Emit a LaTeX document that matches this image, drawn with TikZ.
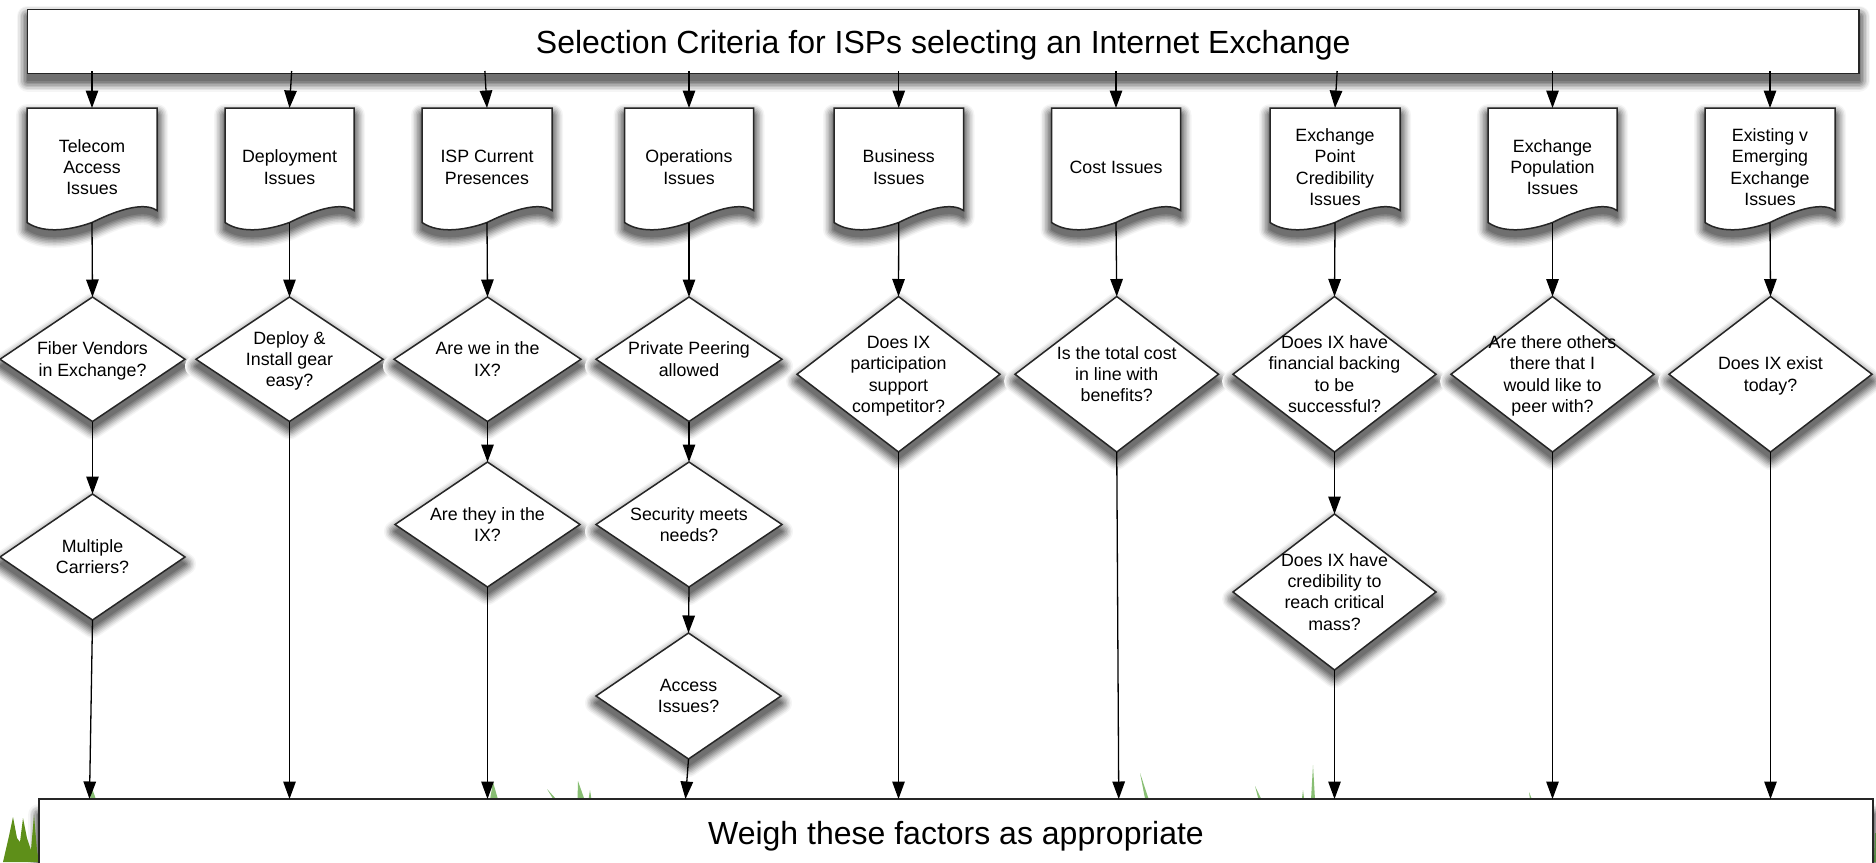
\documentclass[tikz,border=0pt]{standalone}
\usepackage{fontspec}
\setmainfont{Liberation Sans}
\usetikzlibrary{shapes.geometric,arrows.meta,calc}
\newcommand\zbox[2][-8pt]{\makebox[0pt]{\raisebox{#1}[0pt][0pt]{\begin{tabular}{@{}c@{}}#2\end{tabular}}}}
\newcommand\lineonly[2]{\makebox[0pt]{\raisebox{#1}[0pt][0pt]{#2}}}
\newcommand\softshadow[1]{\foreach \w/\c in {22/4,19/10,16/17,13/25,10/33,7/41,4/49,1/56}{\path[fill=black!\c,draw=black!\c,line join=round,line width=\w pt,shift={(0,7)}] #1;}}
\tikzset{
  x=1pt,y=-1pt,
  every node/.style={text=black},
  shapeline/.style={draw=black!85,line width=1.5pt,fill=white,line join=miter},
  smalltext/.style={font=\fontsize{17.8}{21.4}\selectfont},
  bigtext/.style={font=\fontsize{32}{38}\selectfont},
  dia/.style={shapeline,diamond,inner sep=0pt,outer sep=0pt,smalltext},
  docbox/.style={rectangle,inner sep=0pt,outer sep=0pt,minimum height=114.5pt,smalltext},
  banner/.style={shapeline,rectangle,inner sep=0pt,outer sep=0pt,bigtext},
  conn/.style={draw=black,line width=1.3pt,-{Triangle[length=17.5pt,width=12.5pt]}},
  grass/.style={fill=green!45!black!85!yellow,opacity=.55,draw=none},
}
\newcommand\docnode[4]{%
  \pgfmathsetmacro\xa{#2}\pgfmathsetmacro\xb{#3}\pgfmathsetmacro\wdd{#3-#2}%
  \def\docpath{(\xa,108) -- (\xb,108) -- (\xb,210.5) .. controls ({\xa+.93*\wdd},204) and ({\xa+.78*\wdd},204.5) .. ({\xa+.5*\wdd},222.5) .. controls ({\xa+.36*\wdd},229) and ({\xa+.14*\wdd},235) .. (\xa,222.5) -- cycle}%
  \softshadow{\docpath}%
  \path[shapeline] \docpath;%
  \node[docbox,minimum width=\wdd pt] (#1) at ({(#2+#3)/2},165.25) {\zbox[-8.3pt]{#4}};%
}
\newcommand\dianode[6]{% name, left, right, top, bottom, text
  \pgfmathsetmacro\xa{#2}\pgfmathsetmacro\xb{#3}\pgfmathsetmacro\ya{#4}\pgfmathsetmacro\yb{#5}%
  \pgfmathsetmacro\xc{(#2+#3)/2}\pgfmathsetmacro\yc{(#4+#5)/2}%
  \softshadow{(\xc,\ya) -- (\xb,\yc) -- (\xc,\yb) -- (\xa,\yc) -- cycle}%
  \pgfmathsetmacro\wdd{#3-#2}\pgfmathsetmacro\htt{#5-#4}%
  \node[dia,minimum width=\wdd pt,minimum height=\htt pt] (#1) at (\xc,\yc) {\zbox[-6.3pt]{#6}};%
}
\newcommand\blade[4]{\path[grass] ({#1-#4},799.5) -- (#2,#3) -- ({#1+#4},799.5) -- cycle;}
\begin{document}
\begin{tikzpicture}
\useasboundingbox (0,0) rectangle (1876,862);
\clip (0,0) rectangle (1876,862);
% title
\softshadow{(27.5,9.5) rectangle (1859,73.5)}
\node[banner,minimum width=1831.5pt,minimum height=64pt] (title) at (943.25,41.5) {\lineonly{-11.8pt}{Selection Criteria for ISPs selecting an Internet Exchange}};
% bottom shadow, then grass
\softshadow{(39,808) rectangle (1873,880)}
\path[fill=green!30!black!70!yellow!90!white] (3,862) -- (9,836) -- (13,817) -- (17,838) -- (20,842) -- (23,818) -- (27,838) -- (31,850) -- (34,815) -- (37,850) -- (39,862) -- cycle;
\blade{93}{92}{788}{3}
\blade{494}{493}{782}{4}
\blade{555}{547}{789}{1.5}
\blade{581}{578}{781}{3.5}
\blade{590}{590}{790}{1.5}
\blade{1147}{1140}{773}{1.8}
\blade{1260}{1255}{786}{1.5}
\blade{1303}{1303}{790}{1.2}
\blade{1313}{1313}{765}{2}
\blade{1531}{1529}{792}{1}
\path[grass] (1874,862) -- (1875,833) -- (1876,833) -- (1876,862) -- cycle;
\node[banner,minimum width=1834pt,minimum height=66pt] (weigh) at (956,832) {\lineonly{-12pt}{Weigh these factors as appropriate}};
% documents
\docnode{d1}{27}{157}{Telecom\\Access\\Issues}
\docnode{d2}{225}{354}{Deployment\\Issues}
\docnode{d3}{422}{552}{ISP Current\\Presences}
\docnode{d4}{624.5}{753.5}{Operations\\Issues}
\docnode{d5}{834}{963.5}{Business\\Issues}
\docnode{d6}{1051.5}{1180.5}{Cost Issues}
\docnode{d7}{1270}{1400}{Exchange\\Point\\Credibility\\Issues}
\docnode{d8}{1488}{1617}{Exchange\\Population\\Issues}
\docnode{d9}{1705}{1835}{Existing v\\Emerging\\Exchange\\Issues}
% decisions
\dianode{q1}{0}{185}{297}{421.5}{Fiber Vendors\\in Exchange?}
\dianode{q1b}{0}{185}{494}{620}{Multiple\\Carriers?}
\dianode{q2}{196}{383}{297}{421.5}{Deploy \&\\Install gear\\easy?}
\dianode{q3}{394}{581}{297}{421.5}{Are we in the\\IX?}
\dianode{q3b}{395}{580}{462}{587}{Are they in the\\IX?}
\dianode{q4}{596}{782}{297}{421.5}{Private Peering\\allowed}
\dianode{q4b}{596}{782}{462}{587}{Security meets\\needs?}
\dianode{q4c}{596}{781}{633}{759}{Access\\Issues?}
\dianode{q5}{797}{1000}{296.5}{452}{Does IX\\participation\\support\\competitor?}
\dianode{q6}{1015}{1218.5}{296.5}{452}{Is the total cost\\in line with\\benefits?}
\dianode{q7}{1233}{1436}{296.5}{452}{Does IX have\\financial backing\\to be\\successful?}
\dianode{q7b}{1233}{1436}{514}{670}{Does IX have\\credibility to\\reach critical\\mass?}
\dianode{q8}{1451}{1654}{296.5}{452}{Are there others\\there that I\\would like to\\peer with?}
\dianode{q9}{1669}{1872}{296.5}{452}{Does IX exist\\today?}
% connectors title -> documents
\draw[conn,shorten <=-2.5pt] (title.south -| d1.north) -- (d1.north);
\draw[conn,shorten <=-2.5pt] ([xshift=2pt]title.south -| d2.north) -- (d2.north);
\draw[conn,shorten <=-2.5pt] ([xshift=-2pt]title.south -| d3.north) -- (d3.north);
\draw[conn,shorten <=-2.5pt] (title.south -| d4.north) -- (d4.north);
\draw[conn,shorten <=-2.5pt] (title.south -| d5.north) -- (d5.north);
\draw[conn,shorten <=-2.5pt] (title.south -| d6.north) -- (d6.north);
\draw[conn,shorten <=-2.5pt] ([xshift=2pt]title.south -| d7.north) -- (d7.north);
\draw[conn,shorten <=-2.5pt] (title.south -| d8.north) -- (d8.north);
\draw[conn,shorten <=-2.5pt] (title.south -| d9.north) -- (d9.north);
% documents -> decisions
\foreach \n in {1,...,9}{\draw[conn] (d\n.south) -- (q\n.north);}
% between decisions
\draw[conn] (q1.south) -- (q1b.north);
\draw[conn] (q3.south) -- (q3b.north);
\draw[conn] (q4.south) -- (q4b.north);
\draw[conn] (q4b.south) -- (q4c.north);
\draw[conn] (q7.south) -- (q7b.north);
% decisions -> weigh
\draw[conn] (q1b.south) -- ([xshift=-3pt]weigh.north -| q1b.south);
\draw[conn] (q2.south) -- (weigh.north -| q2.south);
\draw[conn] (q3b.south) -- (weigh.north -| q3b.south);
\draw[conn] (q4c.south) -- ([xshift=-3pt]weigh.north -| q4c.south);
\draw[conn] (q5.south) -- (weigh.north -| q5.south);
\draw[conn] (q6.south) -- ([xshift=2pt]weigh.north -| q6.south);
\draw[conn] (q7b.south) -- (weigh.north -| q7b.south);
\draw[conn] (q8.south) -- (weigh.north -| q8.south);
\draw[conn] (q9.south) -- (weigh.north -| q9.south);
\end{tikzpicture}
\end{document}
